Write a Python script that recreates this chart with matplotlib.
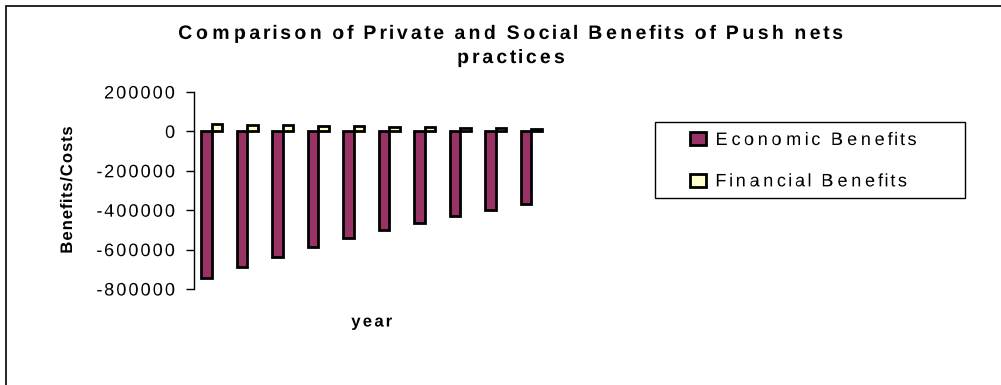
import matplotlib
matplotlib.use("Agg")
import numpy as np
import matplotlib.pyplot as plt
from matplotlib.patches import Rectangle
from matplotlib.patheffects import AbstractPathEffect
from matplotlib.path import Path

# Values
years = list(range(1, 11))
economic = [-746000, -690000, -638000, -588000, -543000,
            -502000, -465000, -430000, -397000, -369000]
financial = [38000, 35000, 32000, 28000, 25000,
             23000, 20000, 18000, 16000, 13000]
y_ticks = [200000, 0, -200000, -400000, -600000, -800000]

W, H = 1001, 385
plt.rcParams["font.family"] = ["Liberation Sans", "DejaVu Sans"]


class Spaced(AbstractPathEffect):
    """Push glyph outlines apart along the baseline (wide letter spacing)."""

    def __init__(self, k, anchor="center"):
        super().__init__()
        self.k = k
        self.anchor = anchor

    def draw_path(self, renderer, gc, tpath, affine, rgbFace=None):
        verts = tpath.vertices.copy()
        codes = tpath.codes
        if codes is None or len(verts) == 0:
            renderer.draw_path(gc, tpath, affine, rgbFace)
            return
        x0, x1 = verts[:, 0].min(), verts[:, 0].max()
        ref = {"left": x0, "right": x1, "center": (x0 + x1) / 2}[self.anchor]
        starts = np.flatnonzero(codes == Path.MOVETO)
        ends = list(starts[1:]) + [len(verts)]
        for s, e in zip(starts, ends):
            cx = (verts[s:e, 0].min() + verts[s:e, 0].max()) / 2
            verts[s:e, 0] += self.k * (cx - ref)
        renderer.draw_path(gc, Path(verts, codes), affine, rgbFace)


fig = plt.figure(figsize=(W / 100, H / 100), dpi=100)

# outer chart frame (left and top edges visible)
fig.patches.append(Rectangle((6 / W, -0.1), 1.2, 1 - 6 / H + 0.1,
                             transform=fig.transFigure, fill=False,
                             edgecolor="black", linewidth=1.2))

ax = fig.add_axes([194 / W, (H - 289) / H, 355 / W, 197 / H])

x = list(range(len(years)))
ax.bar([i - 0.15 for i in x], economic, width=0.3, color="#993366",
       edgecolor="black", linewidth=2, label="Economic Benefits")
ax.bar([i + 0.15 for i in x], financial, width=0.3, color="#FFFFCC",
       edgecolor="black", linewidth=2, label="Financial Benefits")

ax.set_xlim(-0.5, len(years) - 0.5)
ax.set_ylim(-800000, 200000)
ax.set_yticks(y_ticks)
ax.set_yticklabels([str(v) for v in y_ticks], fontsize=13)
for lab in ax.get_yticklabels():
    lab.set_path_effects([Spaced(0.21, "right")])
ax.set_xticks([])
ax.tick_params(axis="y", direction="out", length=5.8, width=1, pad=7)
for side in ("top", "right", "bottom"):
    ax.spines[side].set_visible(False)
ax.spines["left"].set_linewidth(1)

ax.set_ylabel("Benefits/Costs", fontsize=12, fontweight="bold",
              path_effects=[Spaced(0.1)])
ax.yaxis.set_label_coords((75 - 194) / 355, 0.5)
ax.set_xlabel("year", fontsize=12, fontweight="bold", va="center",
              path_effects=[Spaced(0.25)])
ax.xaxis.set_label_coords(0.5, (289 - 322) / 197)

fig.text(511 / W, 1 - 46.5 / H,
         "Comparison of Private and Social Benefits of Push nets\npractices",
         ha="center", va="center", fontsize=14, fontweight="bold",
         linespacing=1.55, path_effects=[Spaced(0.3)])

# legend box and entries
fig.patches.append(Rectangle((655 / W, (H - 198) / H), 310 / W, 76 / H,
                             transform=fig.transFigure, fill=False,
                             edgecolor="black", linewidth=1))
leg = ax.legend(loc="upper left", bbox_to_anchor=(690 / W, 1 - 132 / H),
                bbox_transform=fig.transFigure, frameon=False, fontsize=13,
                borderpad=0, borderaxespad=0, handlelength=0.9,
                handleheight=0.72, handletextpad=0.4, labelspacing=1.35)
for t in leg.get_texts():
    t.set_path_effects([Spaced(0.37, "left")])

fig.savefig("out.png", dpi=100)
